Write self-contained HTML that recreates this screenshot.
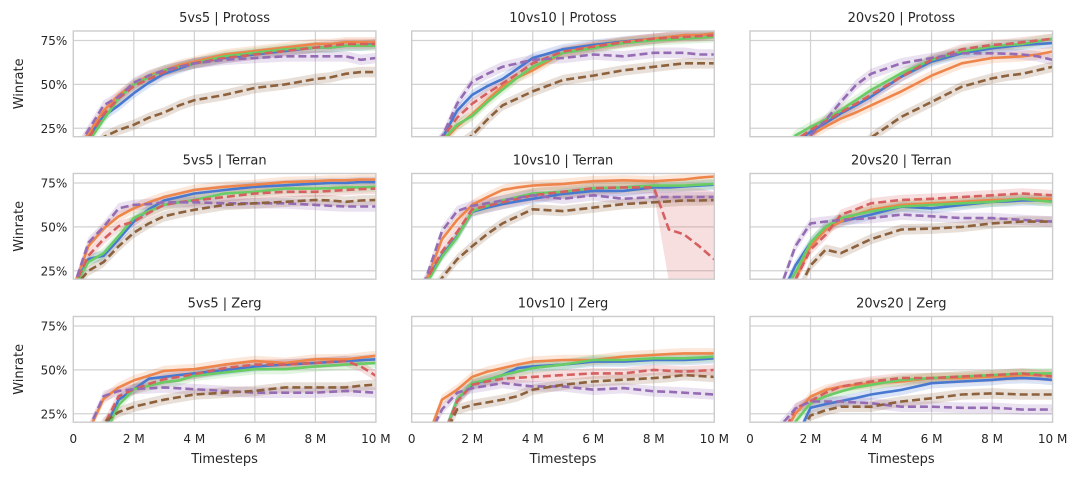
<!DOCTYPE html>
<html><head><meta charset="utf-8"><style>
html,body{margin:0;padding:0;background:#fff;}
svg{display:block;font-family:"DejaVu Sans","Liberation Sans",sans-serif;}
</style></head><body>
<svg id="chart" width="1079" height="480" viewBox="0 0 1079 480" xmlns="http://www.w3.org/2000/svg"></svg>
<script>
const timesteps = [0,0.5,1,1.5,2,2.5,3,3.5,4,5,6,7,8,8.5,9,9.5,10];
const panelTitles = ["5vs5 | Protoss","10vs10 | Protoss","20vs20 | Protoss","5vs5 | Terran","10vs10 | Terran","20vs20 | Terran","5vs5 | Zerg","10vs10 | Zerg","20vs20 | Zerg"];
const yTicks = [25,50,75];
const yTickLabels = ["25%","50%","75%"];
const xTicks = [0,2,4,6,8,10];
const xTickLabels = ["0","2 M","4 M","6 M","8 M","10 M"];
const seriesNames = ["blue","orange","green","red","purple","brown"];

const p1Blue=[10,20,32,38,45,51,56,59,62,65,67,69,71,71,72,72,73];
const p1Orange=[10,22,35,44,50,55,58,61,63,67,69,71,73,73,74,74,74];
const p1Green=[10,17,30,42,50,54,58,60,62,66,68,70,71,71,72,72,72];
const p1Red=[10,19,33,42,49,53,57,60,62,65,67,69,71,72,73,73,73];
const p1Purple=[10,24,38,43,51,55,58,60,62,64,65,66,66,66,66,64,65];
const p1Brown=[5,10,20,24,27,31,34,38,41,44,48,50,53,54,56,57,57];

const p2Blue=[5,10,19,35,44,49,53,59,65,70,72.5,74.4,76,77,78,78,79];
const p2Orange=[5,10,17,26,33,41,49,54,58,68,71.5,74,76,77,78,78,79];
const p2Green=[5,10,18,27,32,40,47,54,60,68,70.6,73.5,75,75.5,76,76.5,77];
const p2Red=[5,10,19,31,39,45,50.5,56,62,68.7,71.5,74,76,76.5,77,77.5,78];
const p2Purple=[5,10,20,39,51.5,56,60,62,64,65,67,66,68,68,68,67,67];
const p2Brown=[5,5,10,15,21,30,38,42,46,52.5,55,58,60,61,62,62,62];

const p3Blue=[5,5,10,17,23,28,33.4,38,43,54.4,63,67.7,70.6,71.5,72.5,73,73.5];
const p3Orange=[5,5,5,10,21,26,30.5,34,38,46,55,62,65,65.5,66,67,68.7];
const p3Green=[5,5,10,20.9,25.8,30,35.3,41,46.8,56.3,64,68.7,71.6,72.5,73,74.5,76];
const p3Red=[5,5,10,18,24,29,34,39,44,54.4,64,70,72.5,73,74,75,76];
const p3Purple=[5,5,5,10,21,29.6,40,49.6,56,62,65,67.7,67.7,67.5,67,66,64];
const p3Brown=[5,5,5,5,5,5,5,10,19.7,31.5,40,48.7,53.4,55,56,58,60];

const p4Blue=[15,31.7,33.6,43,53,60,65,67,69,71,72.8,73.7,74.6,75,75,75.5,75.5];
const p4Orange=[15,39,49,56,60.6,64,67,69,71,72.8,74,75.5,76,76.5,76.5,77,77];
const p4Green=[15,30,35,44.8,55,59,62.5,64,65.3,69,70,71.8,71.8,72,72.5,72.5,72.8];
const p4Red=[15,33.6,43,50.4,53,58,62.5,64,65,67,69,70,70,70.5,71,71.5,71.8];
const p4Purple=[15,41,50,60.6,62.5,63,64,64,64,63.4,63.4,63.4,62.5,62,61.6,61.6,61.6];
const p4Brown=[15,25,30,39,46.6,52,56,58,59.7,62.5,63.4,64.3,65.3,65,64.3,65,65.3];

const p5Blue=[5,20,33.8,44.6,58.6,61,63,64.5,66,68.8,70.5,70.5,72.5,72.5,73,73.5,74];
const p5Orange=[5,20,43,54,62.5,67,71,72.5,73.5,74.5,76,76.5,76,76.5,77,78,78.7];
const p5Green=[5,18,33,44,59,62,65,67,69,70,72,72.5,73.5,73.5,73.5,74,74.5];
const p5Red=[5,20,36,47,60,62,64,66,68,70,72,72.5,72.5,48.5,45.7,39,31.5];
const p5Purple=[5,22,47.6,59,62,63.5,65,66.5,68,66,68,66,67,67,67,67,67];
const p5Brown=[5,10,21,31.5,39,46,52,56,60,59,61,63,64,64.5,65,65,65.3];

const p6Blue=[5,5,10,28,41,50,53,55,57,61.5,60.6,62.5,64.3,64.5,65,65,65];
const p6Orange=[5,5,5,20,39,48.5,53,57,59.7,62.5,63.4,64.3,65.3,65.5,66,66,66];
const p6Green=[5,5,10,24,41,50,55,57,58.8,61.6,62.5,63.4,64.3,65,66,65,64.3];
const p6Red=[5,5,5,20,37,45.5,56.9,60,63.4,65.3,66,67,68,68.5,69,68.5,68];
const p6Purple=[5,5,15,39,52,53,54,54.5,55,57,56,55,55,54.5,54,53.5,53];
const p6Brown=[5,5,5,10,28,37,35,39,43,48.5,49,50,52,52.5,53,53,53];

const p7Blue=[5,5,15,33,39,45,46,47,48,50,52,53,54,54.5,55,55.5,56];
const p7Orange=[5,15,33.5,40,44,46.6,49.4,50,50.4,53,55,54,56,56,56,57,58];
const p7Green=[5,5,12,30,39,41,43,44,46.6,48.5,50.4,50.4,52,52.5,53,53.5,54];
const p7Red=[5,5,18,35,39,42,44.7,46,47.6,51,53,53,54,54.5,55,52,46.6];
const p7Purple=[5,16,35,38,39,39.5,40,39.5,39,38,37,37,37,37.5,38,37.5,37];
const p7Brown=[5,5,20,26,29,31,33,34.5,36,37,38,40,40,40,40,41,41.6];

const p8Blue=[5,5,10,33,41.5,44.4,47,51,52,53,54.7,54.7,55.6,55.6,55.6,56,56.6];
const p8Orange=[5,10,33,38.7,46,49,51,53,54.7,55.6,55.6,57.5,58.5,59,59.4,59.4,59.4];
const p8Green=[5,5,10,33,42.5,44.4,47,49,51,53,55.6,55.6,56.6,56.6,56.6,57,57.5];
const p8Red=[5,5,10,32,41.5,43.5,45,45.5,46,47,48,48,50,49.5,49,49.5,50];
const p8Purple=[5,10,27.5,37,39.6,41,42.5,41.5,40.6,40.6,38.7,39.6,37.8,37.5,37,36.5,36];
const p8Brown=[5,5,10,27.5,30,31.5,33,35,38.7,41.5,43.4,44.4,45.3,46,47,46.5,46];

const p9Blue=[5,5,5,10,28.4,30.5,32.2,34,36,38.6,42.4,43.4,44.3,45,45.3,45,44.3];
const p9Orange=[5,5,10,25,34.8,38.6,40.5,41.5,42.4,43.4,45.3,45.3,46.2,46.5,47,47,47];
const p9Green=[5,5,10,20.5,31,35,37.7,40,41.5,44.3,45.3,46.2,47,47.5,48,48,48];
const p9Red=[5,5,10,28,32.2,37,40.5,42,43.4,45.3,45.3,46.2,47,47.5,48,47,46.2];
const p9Purple=[5,5,18,28,32,32,32,31.5,31,29,29,28.4,28.4,28,27.4,27.4,27.4];
const p9Brown=[5,5,5,10,24,27,29,29,29,32,33.8,36,36.6,36.3,36,36,36];

const p5RedBandLow=[5,17,32,43,56,58,60,62,64,66,68,69,69,19,19,19,19];
const p5RedBandHigh=[5,23,40,51,64,66,68,70,72,74,76,76,76,72,72,72,70];

const panelData = [
 [p1Blue,p1Orange,p1Green,p1Red,p1Purple,p1Brown],
 [p2Blue,p2Orange,p2Green,p2Red,p2Purple,p2Brown],
 [p3Blue,p3Orange,p3Green,p3Red,p3Purple,p3Brown],
 [p4Blue,p4Orange,p4Green,p4Red,p4Purple,p4Brown],
 [p5Blue,p5Orange,p5Green,p5Red,p5Purple,p5Brown],
 [p6Blue,p6Orange,p6Green,p6Red,p6Purple,p6Brown],
 [p7Blue,p7Orange,p7Green,p7Red,p7Purple,p7Brown],
 [p8Blue,p8Orange,p8Green,p8Red,p8Purple,p8Brown],
 [p9Blue,p9Orange,p9Green,p9Red,p9Purple,p9Brown]
];

const colors = ["#4878d0","#ee854a","#6acc64","#d65f5f","#956cb4","#8c613c"];
const dashed = [false,false,false,true,true,true];
const colLeft = [73.3,411.7,750];
const rowTop = [31,173.5,316.5];
const PW = 302.6, PH = 105.7;
const YMIN = 20.2, YMAX = 80.4;
const NS = "http://www.w3.org/2000/svg";
const svg = document.getElementById("chart");

function mk(tag, attrs, parent){
  const e = document.createElementNS(NS, tag);
  for (const k in attrs) e.setAttribute(k, attrs[k]);
  (parent||svg).appendChild(e);
  return e;
}
function xScale(p, v){ return colLeft[p%3] + v/10*PW; }
function yScale(p, v){ return rowTop[Math.floor(p/3)] + (YMAX - v)/(YMAX - YMIN)*PH; }

const defs = mk("defs", {});
for (let p=0; p<9; p++){
  const cp = mk("clipPath", {id:"clip"+p}, defs);
  mk("rect", {x:colLeft[p%3], y:rowTop[Math.floor(p/3)], width:PW, height:PH}, cp);
}

for (let p=0; p<9; p++){
  const col = p%3, row = Math.floor(p/3);
  const g = mk("g", {});
  
  
  const L = colLeft[col], T = rowTop[row];
  for (const xv of xTicks){
    if (xv===0 || xv===10) continue;
    const gl = mk("line", {x1:xScale(p,xv), x2:xScale(p,xv), y1:T, y2:T+PH, stroke:"#d2d2d2", "stroke-width":1.2}, g);
    
    
  }
  for (const yv of yTicks){
    const gl = mk("line", {x1:L, x2:L+PW, y1:yScale(p,yv), y2:yScale(p,yv), stroke:"#d2d2d2", "stroke-width":1.2}, g);
    
    
  }
  const sg = mk("g", {"clip-path":"url(#clip"+p+")"}, g);
  const data = panelData[p];
  for (let s=0; s<6; s++){
    const vals = data[s];
    let lo, hi;
    if (p===4 && s===3){ lo = p5RedBandLow; hi = p5RedBandHigh; }
    else { lo = vals.map(v=>v-3); hi = vals.map(v=>v+3); }
    let d = "";
    for (let i=0;i<timesteps.length;i++) d += (i?"L":"M")+xScale(p,timesteps[i]).toFixed(1)+","+yScale(p,hi[i]).toFixed(1);
    for (let i=timesteps.length-1;i>=0;i--) d += "L"+xScale(p,timesteps[i]).toFixed(1)+","+yScale(p,lo[i]).toFixed(1);
    const band = mk("path", {d:d+"Z", fill:colors[s], "fill-opacity":0.2, stroke:"none"}, sg);
    
    
  }
  for (let s=0; s<6; s++){
    const vals = data[s];
    const pts = timesteps.map((t,i)=>xScale(p,t).toFixed(1)+","+yScale(p,vals[i]).toFixed(1)).join(" ");
    const attrs = {points:pts, fill:"none", stroke:colors[s], "stroke-width":2.6, "stroke-linejoin":"round"};
    if (dashed[s]) attrs["stroke-dasharray"] = "8,4";
    const line = mk("polyline", attrs, sg);
    
    
  }
  const fr = mk("rect", {x:L, y:T, width:PW, height:PH, fill:"none", stroke:"#cccccc", "stroke-width":1.4}, g);
  
  
  const tt = mk("text", {x:L+PW/2, y:T-9, "text-anchor":"middle", "font-size":13, fill:"#262626"}, g);
  tt.textContent = panelTitles[p];
  
  
  if (col===0){
    for (let i=0;i<yTicks.length;i++){
      const yl = mk("text", {x:L-6, y:yScale(p,yTicks[i])+4.5, "text-anchor":"end", "font-size":12, fill:"#262626"}, g);
      yl.textContent = yTickLabels[i];
      
      
    }
    const yt = mk("text", {x:0, y:0, transform:"translate(23,"+(T+PH/2)+") rotate(-90)", "text-anchor":"middle", "font-size":13, fill:"#262626"}, g);
    yt.textContent = "Winrate";
    
    
  }
  if (row===2){
    for (let i=0;i<xTicks.length;i++){
      const xl = mk("text", {x:xScale(p,xTicks[i]), y:T+PH+21, "text-anchor":"middle", "font-size":12, fill:"#262626"}, g);
      xl.textContent = xTickLabels[i];
      
      
    }
    const xt = mk("text", {x:L+PW/2, y:T+PH+41, "text-anchor":"middle", "font-size":13, fill:"#262626"}, g);
    xt.textContent = "Timesteps";
    
    
  }
}
</script>
</body></html>
